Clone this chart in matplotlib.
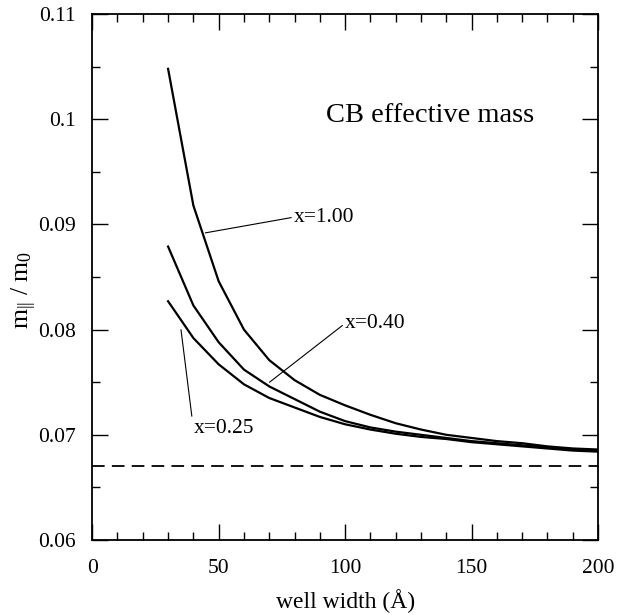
import matplotlib
matplotlib.use("Agg")
import matplotlib.pyplot as plt
from matplotlib.ticker import MultipleLocator

plt.rcParams['font.family'] = ['Liberation Serif', 'DejaVu Serif']
plt.rcParams['mathtext.fontset'] = 'custom'
plt.rcParams['mathtext.rm'] = 'Liberation Serif'
plt.rcParams['mathtext.it'] = 'Liberation Serif:italic'

well_width = [30, 40, 50, 60, 70, 80, 90, 100, 110, 120, 130, 140, 150, 160, 170, 180, 190, 200]
mass_x100 = [0.1048, 0.0918, 0.0846, 0.0800, 0.0771, 0.0752, 0.0738, 0.0728, 0.0719, 0.0711,
             0.0705, 0.0700, 0.0697, 0.0694, 0.0692, 0.0689, 0.0687, 0.0686]
mass_x040 = [0.0879, 0.0823, 0.0788, 0.0762, 0.0746, 0.0734, 0.0722, 0.0713, 0.0707, 0.0703,
             0.0700, 0.0697, 0.0694, 0.0692, 0.0690, 0.0688, 0.0686, 0.0685]
mass_x025 = [0.0827, 0.0792, 0.0767, 0.0748, 0.0735, 0.0726, 0.0717, 0.0710, 0.0705, 0.0701,
             0.0698, 0.0696, 0.0693, 0.0691, 0.0689, 0.0687, 0.0685, 0.0684]
bulk_mass = 0.067

fig = plt.figure(figsize=(6.23, 6.15), dpi=100)
ax = fig.add_axes([0.148, 0.122, 0.812, 0.855])

for ys in (mass_x100, mass_x040, mass_x025):
    ax.plot(well_width, ys, color='black', lw=1.6)
ax.axhline(bulk_mass, color='black', lw=1.3, dashes=(7, 4))

# annotations
arrow = dict(arrowstyle='-', color='black', lw=0.8, shrinkA=0, shrinkB=0, relpos=(0, 0.5))
ax.annotate('x=1.00', xy=(44.7, 0.0892), xytext=(79.8, 0.0907), fontsize=15.5,
            va='center', ha='left', arrowprops=arrow)
ax.annotate('x=0.40', xy=(70.1, 0.0750), xytext=(100.0, 0.0806), fontsize=15.5,
            va='center', ha='left', arrowprops=arrow)
ax.annotate('x=0.25', xy=(35.1, 0.0800), xytext=(40.0, 0.0706), fontsize=15.5,
            va='center', ha='left', arrowprops=arrow)

ax.text(0.462, 0.808, 'CB effective mass', transform=ax.transAxes, fontsize=20.5,
        ha='left', va='center')

ax.set_xlim(0, 200)
ax.set_ylim(0.06, 0.11)
ax.xaxis.set_major_locator(MultipleLocator(50))
ax.xaxis.set_minor_locator(MultipleLocator(10))
ax.yaxis.set_minor_locator(MultipleLocator(0.005))
ax.set_yticks([0.06, 0.07, 0.08, 0.09, 0.1, 0.11])
ax.set_yticklabels(['0.06', '0.07', '0.08', '0.09', '0.1', '0.11'])
ax.tick_params(which='both', direction='in', top=True, right=True, labelsize=15.5, width=1)
ax.tick_params(which='major', length=11.5)
ax.tick_params(which='minor', length=5.5)
ax.tick_params(axis='y', which='major', pad=11.5)
ax.tick_params(axis='x', which='major', pad=14)
for s in ax.spines.values():
    s.set_linewidth(1.3)

ax.set_xlabel('well width (Å)', fontsize=17, labelpad=8)
ax.set_ylabel(r'$\mathregular{m_{||}\ /\ m_0}$', fontsize=18.5)
ax.yaxis.set_label_coords(-0.105, 0.475)

fig.savefig('out.png', dpi=100)
